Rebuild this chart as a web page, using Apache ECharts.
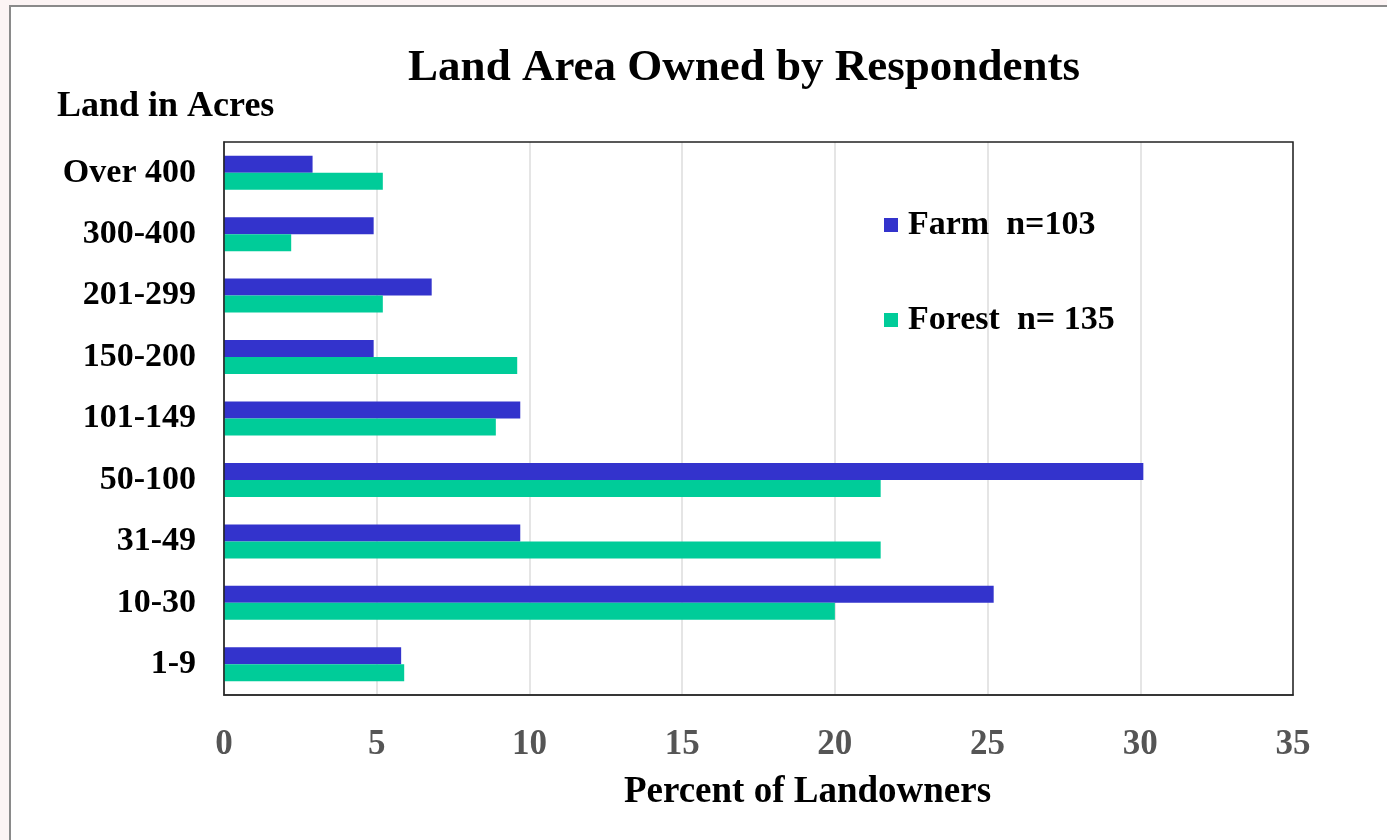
<!DOCTYPE html>
<html>
<head>
<meta charset="utf-8">
<script src="https://cdn.jsdelivr.net/npm/echarts@6/dist/echarts.min.js"></script>
<style>
html,body{margin:0;padding:0;background:#fcf4f4;}
#chart{width:1387px;height:840px;}
</style>
</head>
<body>
<div id="chart"></div>
<script>
const categories = ['1-9','10-30','31-49','50-100','101-149','150-200','201-299','300-400','Over 400'];
const farm = [5.8, 25.2, 9.7, 30.1, 9.7, 4.9, 6.8, 4.9, 2.9];
const forest = [5.9, 20.0, 21.5, 21.5, 8.9, 9.6, 5.2, 2.2, 5.2];
const xTicks = [0, 5, 10, 15, 20, 25, 30, 35];

const serif = '"Liberation Serif","Times New Roman",serif';
const chart = echarts.init(document.getElementById('chart'));
chart.setOption({
  backgroundColor: 'transparent',
  animation: false,
  graphic: [{
    type: 'rect', z: -10, silent: true,
    shape: {x: 10, y: 6, width: 1400, height: 900},
    style: {fill: '#ffffff', stroke: '#8a8a8a', lineWidth: 2}
  }, {
    type: 'rect', z: 10, silent: true,
    shape: {x: 224, y: 142, width: 1069, height: 553},
    style: {fill: 'none', stroke: '#222', lineWidth: 1.5}
  }],
  title: [{
    text: 'Land Area Owned by Respondents',
    left: 739, top: 41, textAlign: 'center',
    textStyle: {fontFamily: serif, fontWeight: 'bold', fontSize: 45, color: '#000'}
  }, {
    text: 'Land in Acres',
    left: 52, top: 84,
    textStyle: {fontFamily: serif, fontWeight: 'bold', fontSize: 36, color: '#000'}
  }],
  legend: {
    orient: 'vertical',
    left: 879, top: 203,
    itemWidth: 14, itemHeight: 14, itemGap: 61,
    data: ['Farm  n=103', 'Forest  n= 135'],
    textStyle: {fontFamily: serif, fontWeight: 'bold', fontSize: 34, color: '#000', padding: [0, 0, 0, 5]},
    icon: 'rect'
  },
  grid: {left: 224, right: 94, top: 142, bottom: 145, containLabel: false},
  xAxis: {
    type: 'value', min: 0, max: 35, interval: 5,
    name: 'Percent of Landowners', nameLocation: 'middle', nameGap: 79,
    nameTextStyle: {fontFamily: serif, fontWeight: 'bold', fontSize: 37, color: '#000', padding: [0, 0, 0, 98]},
    axisLine: {show: true, lineStyle: {color: '#777', width: 2}},
    axisTick: {show: false},
    axisLabel: {margin: 32, fontFamily: serif, fontWeight: 'bold', fontSize: 35, color: '#555',
      formatter: v => xTicks.includes(v) ? String(v) : ''},
    splitLine: {show: true, lineStyle: {color: '#dddddd', width: 1.5}}
  },
  yAxis: {
    type: 'category', data: categories,
    axisLine: {show: true, lineStyle: {color: '#999', width: 2}},
    axisTick: {show: false},
    axisLabel: {margin: 28, fontFamily: serif, fontWeight: 'bold', fontSize: 34, color: '#000'},
    splitLine: {show: false}
  },
  series: [{
    name: 'Farm  n=103', type: 'bar', data: farm, barWidth: 17, barGap: '0%',
    itemStyle: {color: '#3333cc'}
  }, {
    name: 'Forest  n= 135', type: 'bar', data: forest, barWidth: 17, barGap: '0%',
    itemStyle: {color: '#00cc99'}
  }]
});
</script>
</body>
</html>
